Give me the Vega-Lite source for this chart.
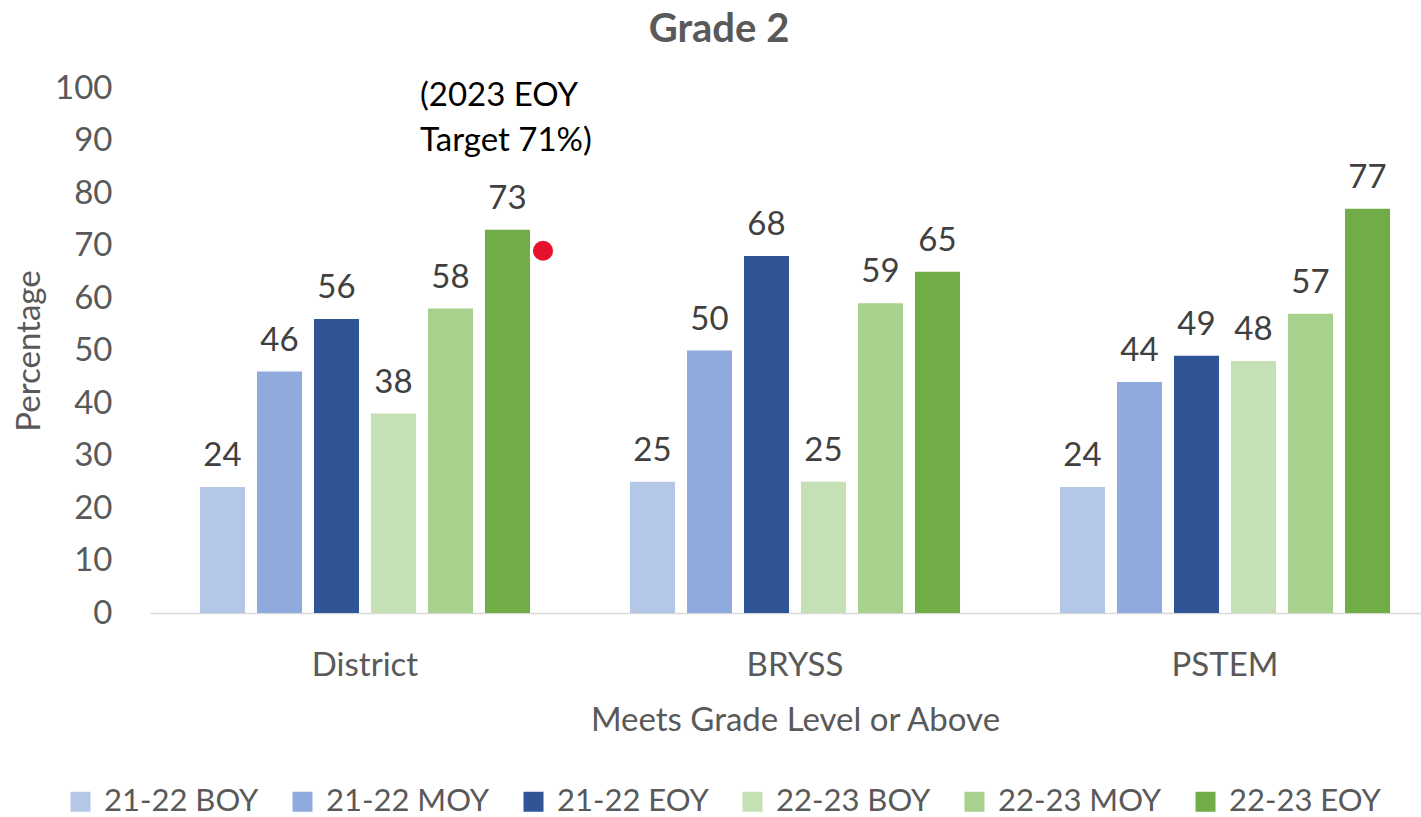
{
  "$schema": "https://vega.github.io/schema/vega-lite/v6.json",
  "autosize": {"type": "none"},
  "padding": {"left": 150, "top": 88, "right": -19, "bottom": 204},
  "width": 1290,
  "height": 525,
  "background": "white",
  "config": {
    "view": {"stroke": null},
    "font": "Lato",
    "text": {"font": "Lato"}
  },
  "title": {
    "text": "Grade 2",
    "font": "Lato",
    "fontSize": 40,
    "fontWeight": "bold",
    "color": "#595959",
    "anchor": "middle",
    "dx": -76,
    "offset": 22
  },
  "datasets": {
    "scores": [
      {"school": "District", "series": "21-22 BOY", "value": 24},
      {"school": "District", "series": "21-22 MOY", "value": 46},
      {"school": "District", "series": "21-22 EOY", "value": 56},
      {"school": "District", "series": "22-23 BOY", "value": 38},
      {"school": "District", "series": "22-23 MOY", "value": 58},
      {"school": "District", "series": "22-23 EOY", "value": 73},
      {"school": "BRYSS", "series": "21-22 BOY", "value": 25},
      {"school": "BRYSS", "series": "21-22 MOY", "value": 50},
      {"school": "BRYSS", "series": "21-22 EOY", "value": 68},
      {"school": "BRYSS", "series": "22-23 BOY", "value": 25},
      {"school": "BRYSS", "series": "22-23 MOY", "value": 59},
      {"school": "BRYSS", "series": "22-23 EOY", "value": 65},
      {"school": "PSTEM", "series": "21-22 BOY", "value": 24},
      {"school": "PSTEM", "series": "21-22 MOY", "value": 44},
      {"school": "PSTEM", "series": "21-22 EOY", "value": 49},
      {"school": "PSTEM", "series": "22-23 BOY", "value": 48},
      {"school": "PSTEM", "series": "22-23 MOY", "value": 57},
      {"school": "PSTEM", "series": "22-23 EOY", "value": 77}
    ]
  },
  "layer": [
    {
      "data": {"name": "scores"},
      "mark": {"type": "bar"},
      "encoding": {
        "x": {
          "field": "school", "type": "nominal", "sort": ["District", "BRYSS", "PSTEM"],
          "scale": {"paddingInner": 0, "paddingOuter": 0},
          "axis": {
            "title": "Meets Grade Level or Above",
            "labelAngle": 0, "ticks": false, "domainColor": "#D9D9D9", "domainWidth": 1.5,
            "labelFont": "Lato", "labelFontSize": 33, "labelColor": "#595959", "labelPadding": 36,
            "titleFont": "Lato", "titleFontSize": 33, "titleFontWeight": "normal", "titleColor": "#595959", "titlePadding": 22
          }
        },
        "xOffset": {
          "field": "series", "type": "nominal",
          "sort": ["21-22 BOY", "21-22 MOY", "21-22 EOY", "22-23 BOY", "22-23 MOY", "22-23 EOY"],
          "scale": {"paddingInner": 0.21, "paddingOuter": 0.877}
        },
        "y": {
          "field": "value", "type": "quantitative",
          "scale": {"domain": [0, 100]},
          "axis": {
            "title": "Percentage", "values": [0, 10, 20, 30, 40, 50, 60, 70, 80, 90, 100],
            "grid": false, "domain": false, "ticks": false,
            "labelFont": "Lato", "labelFontSize": 33, "labelColor": "#595959", "labelPadding": 38,
            "titleFont": "Lato", "titleFontSize": 33, "titleFontWeight": "normal", "titleColor": "#595959", "titlePadding": 8
          }
        },
        "color": {
          "field": "series", "type": "nominal",
          "sort": ["21-22 BOY", "21-22 MOY", "21-22 EOY", "22-23 BOY", "22-23 MOY", "22-23 EOY"],
          "scale": {
            "domain": ["21-22 BOY", "21-22 MOY", "21-22 EOY", "22-23 BOY", "22-23 MOY", "22-23 EOY"],
            "range": ["#B4C7E7", "#8FAADC", "#2F5597", "#C5E0B4", "#A9D18E", "#70AD47"]
          },
          "legend": {
            "title": null, "orient": "none", "direction": "horizontal",
            "legendX": -85, "legendY": 698,
            "symbolType": "square", "symbolSize": 400, "symbolStrokeWidth": 0,
            "labelFont": "Lato", "labelFontSize": 31, "labelColor": "#595959", "labelLimit": 400,
            "columnPadding": 28, "labelOffset": 8
          }
        }
      }
    },
    {
      "data": {"name": "scores"},
      "mark": {"type": "text", "baseline": "bottom", "dy": -14, "font": "Lato", "fontSize": 33, "color": "#404040"},
      "encoding": {
        "x": {"field": "school", "type": "nominal", "sort": ["District", "BRYSS", "PSTEM"]},
        "xOffset": {
          "field": "series", "type": "nominal",
          "sort": ["21-22 BOY", "21-22 MOY", "21-22 EOY", "22-23 BOY", "22-23 MOY", "22-23 EOY"]
        },
        "y": {"field": "value", "type": "quantitative"},
        "text": {"field": "value", "type": "quantitative"}
      }
    },
    {
      "data": {"values": [{"school": "District", "value": 69}]},
      "mark": {"type": "circle", "size": 400, "color": "#E8112D", "opacity": 1, "xOffset": 178},
      "encoding": {
        "x": {"field": "school", "type": "nominal", "sort": ["District", "BRYSS", "PSTEM"]},
        "y": {"field": "value", "type": "quantitative"}
      }
    },
    {
      "data": {"values": [{"school": "District", "value": 98.5, "note": ["(2023 EOY", "Target 71%)"]}]},
      "mark": {"type": "text", "align": "left", "baseline": "middle", "dx": 55, "lineHeight": 45, "font": "Lato", "fontSize": 33, "color": "#000000"},
      "encoding": {
        "x": {"field": "school", "type": "nominal", "sort": ["District", "BRYSS", "PSTEM"]},
        "y": {"field": "value", "type": "quantitative"},
        "text": {"field": "note"}
      }
    }
  ]
}
